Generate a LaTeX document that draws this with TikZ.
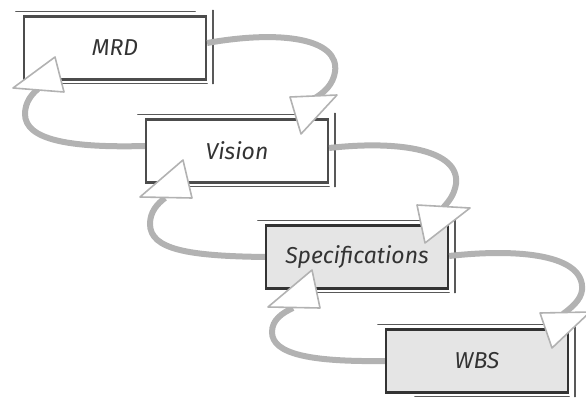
\documentclass[tikz,border=0pt]{standalone}
\usepackage{fontspec}
\setmainfont{Fira Sans}
\usetikzlibrary{calc}
\begin{document}
\begin{tikzpicture}[x=1pt,y=1pt,
  box/.style={draw=black!70, line width=2.2pt, minimum width=182pt, minimum height=63pt,
    inner sep=0pt, font=\fontsize{23}{26}\selectfont\itshape, text=black!80},
  dbox/.style={box, draw=black!80, fill=black!10},
  sk/.style={draw=black!65, line width=1.6pt, line cap=round},
  flow/.style={draw=black!30, line width=6pt},
  head/.style={draw=black!30, fill=white, line width=1.6pt, line join=round},
]
\useasboundingbox (0,0) rectangle (586,-398);
% boxes
\node[box] (mrd) at (115,-48) {MRD};
\node[box] (vis) at (237,-151) {Vision};
\node[dbox] (spec) at (357,-257) {Specifications};
\node[dbox] (wbs) at (477,-361) {WBS};
% sketch strokes
\foreach \b in {mrd,vis,spec,wbs}{
  \draw[sk] ($(\b.north west)+(-7,4)$) -- ($(\b.north east)+(-12,4)$);
  \draw[sk] ($(\b.north east)+(6,5)$) -- ($(\b.south east)+(6,-3)$);
  \draw[sk] ($(\b.south west)+(30,-3)$) -- ($(\b.south east)+(0,-3)$);
}
% arrow-head bases (connector ends)
\coordinate (h1) at (315,-98);
\coordinate (h2) at (443,-208);
\coordinate (h3) at (563,-314);
\coordinate (g1) at (38,-89);
\coordinate (g2) at (165,-198);
\coordinate (g3) at (293,-308);
% forward shafts
\draw[flow] ([yshift=5pt]mrd.east) .. controls (280,-30) and (340,-38) .. (335,-72)
  .. controls (333,-84) and (325,-92) .. (h1);
\draw[flow] ([yshift=3pt]vis.east) .. controls (400,-140) and (460,-150) .. (456,-184)
  .. controls (454,-196) and (448,-202) .. (h2);
\draw[flow] ([yshift=1pt]spec.east) .. controls (520,-248) and (585,-255) .. (582,-290)
  .. controls (581,-300) and (571,-308) .. (h3);
% backward shafts
\draw[flow] ([yshift=5pt]vis.west) .. controls (70,-148) and (25,-140) .. (25,-114)
  .. controls (25,-102) and (32,-94) .. (g1);
\draw[flow] (spec.west) .. controls (190,-256) and (150,-250) .. (150,-224)
  .. controls (150,-212) and (157,-204) .. (g2);
\draw[flow] (wbs.west) .. controls (310,-362) and (272,-354) .. (272,-332)
  .. controls (272,-320) and (282,-313) .. (g3);
% arrow heads
\draw[head] (290,-97) -- (337,-95) -- (301,-134) -- cycle;
\draw[head] (417,-205) -- (470,-208) -- (425,-243) -- cycle;
\draw[head] (540,-313) -- (590,-312) -- (552,-348) -- cycle;
\draw[head] (13,-88) -- (64,-92) -- (55,-57) -- cycle;
\draw[head] (140,-197) -- (192,-198) -- (183,-160) -- cycle;
\draw[head] (268,-307) -- (320,-308) -- (312,-270) -- cycle;
\end{tikzpicture}
\end{document}
